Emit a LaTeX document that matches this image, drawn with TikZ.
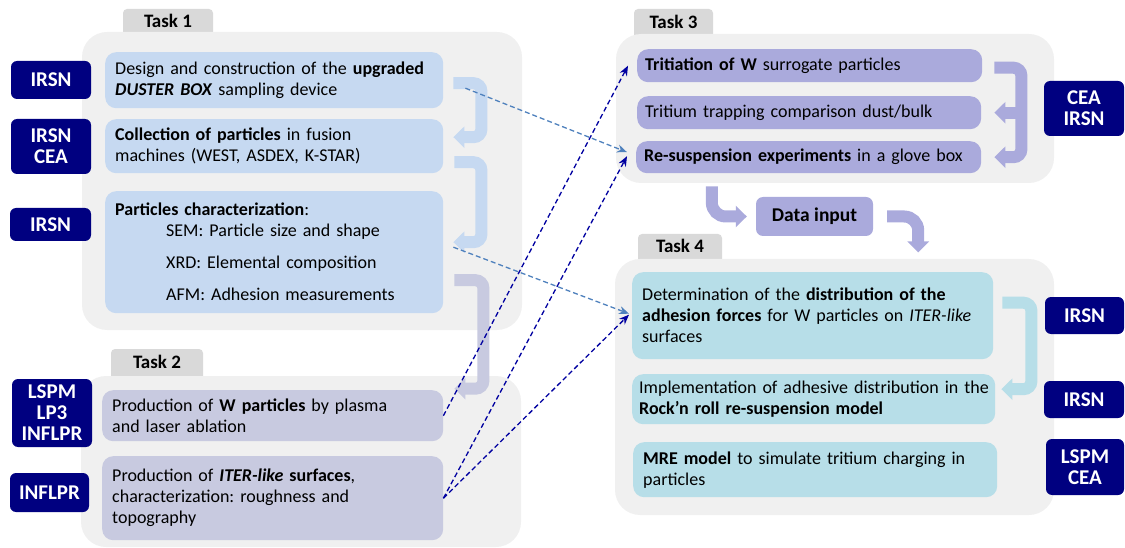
\documentclass[tikz,border=0pt]{standalone}
\usepackage{fontspec}
\setmainfont{Carlito}
\usepackage{tikz}
\usetikzlibrary{positioning, calc, arrows.meta}

\definecolor{panelgrey}{RGB}{240,240,240}
\definecolor{tabgrey}{RGB}{217,217,217}
\definecolor{navyblue}{RGB}{0,0,128}
\definecolor{taskoneblue}{RGB}{198,217,241}
\definecolor{tasktwogrey}{RGB}{200,202,224}
\definecolor{taskthreepurple}{RGB}{170,170,220}
\definecolor{taskfourcyan}{RGB}{183,222,232}
\definecolor{dashblue}{RGB}{79,129,189}
\definecolor{dashnavy}{RGB}{0,0,160}

\tikzset{
  work/.style={anchor=north west, rounded corners=11pt, align=left, inner xsep=10pt, inner ysep=0pt, font=\fontsize{18}{21}\selectfont},
  partner/.style={fill=navyblue, text=white, rounded corners=6pt, align=center, inner sep=0pt, font=\bfseries\fontsize{21}{21}\selectfont},
  tasklbl/.style={font=\bfseries\fontsize{19}{21}\selectfont},
  fatarrow/.style={line width=12pt, rounded corners=8pt, -{Triangle[length=11pt,width=21pt]}},
  lightdash/.style={draw=dashblue, line width=1.3pt, dash pattern=on 5pt off 3pt, -{Stealth[length=10pt,width=8pt]}},
  darkdash/.style={lightdash, draw=dashnavy}
}

\begin{document}
\frenchspacing
\begin{tikzpicture}[x=1pt, y=-1pt]
\useasboundingbox (0,0) rectangle (1125,548);

\fill[tabgrey, rounded corners=4pt] (123,40) rectangle (213,9);
\fill[tabgrey, rounded corners=4pt] (111,384) rectangle (203,349);
\fill[tabgrey, rounded corners=4pt] (634,40) rectangle (713,9);
\fill[tabgrey, rounded corners=4pt] (638,266) rectangle (722,234);
\node[tasklbl] (tk1) at (168,21) {Task 1};
\node[tasklbl] (tk2) at (157,362) {Task 2};
\node[tasklbl] (tk3) at (673.5,22) {Task 3};
\node[tasklbl] (tk4) at (680,246) {Task 4};

\fill[panelgrey, rounded corners=25pt] (82,32) rectangle (522,330);
\fill[panelgrey, rounded corners=25pt] (81,376) rectangle (521,547);
\fill[panelgrey, rounded corners=25pt] (616,34) rectangle (1054,183);
\fill[panelgrey, rounded corners=25pt] (615,259) rectangle (1054,515);

\foreach \nm/\cx/\cy/\bw/\bh/\txt in {
  p1/51/80/80/38/IRSN,
  p2/51/146.5/80/55/{IRSN\\CEA},
  p3/50.5/224.5/81/33/IRSN,
  p4/52/413/80/68/{LSPM\\LP3\\INFLPR},
  p5/49.5/492.5/79/39/INFLPR,
  p6/1084/108.5/80/55/{CEA\\IRSN},
  p7/1084.5/315.5/79/37/IRSN,
  p8/1084/399.5/80/37/IRSN,
  p9/1085/467/78/56/{LSPM\\CEA}}
  \node[partner, minimum width=\bw pt, minimum height=\bh pt] (\nm) at (\cx,\cy) {\txt};

\node[work, fill=taskoneblue, text width=318pt, minimum height=56pt] (d1) at (105,52)
  {Design and construction of the \textbf{upgraded}\\ \textbf{\textit{DUSTER BOX}} sampling device};
\node[work, fill=taskoneblue, text width=318pt, minimum height=54pt] (d2) at (105,119)
  {\textbf{Collection of particles} in fusion\\ machines (WEST, ASDEX, K-STAR)};
\node[work, fill=taskoneblue, text width=318pt, minimum height=122pt] (d3) at (105,191)
  {\textbf{Particles characterization}:\\
   \hspace*{51pt}SEM: Particle size and shape\\[11pt]
   \hspace*{51pt}XRD: Elemental composition\\[11pt]
   \hspace*{51pt}AFM: Adhesion measurements};

\node[work, fill=tasktwogrey, text width=321pt, minimum height=51pt] (w1) at (102,390)
  {Production of \textbf{W particles} by plasma\\ and laser ablation};
\node[work, fill=tasktwogrey, text width=321pt, minimum height=84pt] (w2) at (102,456)
  {Production of \textbf{\textit{ITER-like} surfaces},\\ characterization: roughness and\\ topography};

\node[work, fill=taskthreepurple, text width=329pt, minimum height=33pt, inner xsep=8pt] (r1) at (637,49)
  {\textbf{Tritiation of W} surrogate particles};
\node[work, fill=taskthreepurple, text width=328pt, minimum height=33pt, inner xsep=8pt] (r2) at (637,96)
  {Tritium trapping comparison dust/bulk};
\node[work, fill=taskthreepurple, text width=329pt, minimum height=32pt, inner xsep=8pt] (r3) at (636,141)
  {\textbf{Re-suspension experiments} in a glove box};

\node[fill=taskthreepurple, rounded corners=7pt, minimum width=117pt, minimum height=39pt,
  font=\bfseries\fontsize{19.5}{21}\selectfont] (data) at (814.5,216.5) {Data input};

\node[work, fill=taskfourcyan, text width=341pt, minimum height=87pt] (a1) at (632,272)
  {Determination of the \textbf{distribution of the}\\ \textbf{adhesion forces} for W particles on \textit{ITER-like}\\ surfaces};
\node[work, fill=taskfourcyan, text width=349pt, minimum height=50pt, inner xsep=7pt] (a2) at (632,374)
  {\mbox{Implementation of adhesive distribution in the}\\ \textbf{Rock’n roll re-suspension model}};
\node[work, fill=taskfourcyan, text width=344pt, minimum height=55pt] (a3) at (633,442)
  {\textbf{MRE model} to simulate tritium charging in\\ particles};

\draw[fatarrow, taskoneblue] ([shift={(10,3)}]d1.east) -- ++(28,0) |- ([shift={(10,-9)}]d2.east);
\draw[fatarrow, taskoneblue] ([shift={(11,16)}]d2.east) -- ++(27,0) |- ([shift={(10,-10)}]d3.east);
\draw[fatarrow, tasktwogrey] ([shift={(11,28)}]d3.east) -- ++(29,0) |- ([shift={(11,-27)}]w1.east);

\draw[fatarrow, taskthreepurple] ([shift={(12,2)}]r1.east) -- ++(27,0) |- ([xshift=13]r3.east);
\draw[fatarrow, taskthreepurple] ([xshift=40]r2.east) -- ([xshift=13]r2.east);
\draw[fatarrow, taskthreepurple, rounded corners=14pt, shorten >=9pt] ([shift={(-44,-30)}]data.west) |- (data.west);
\draw[fatarrow, taskthreepurple, rounded corners=14pt] ([xshift=14]data.east) -| ++(31,36);

\draw[fatarrow, taskfourcyan] ([shift={(9,-13)}]a1.east) -- ++(29,0) |- ([shift={(6,-10)}]a2.east);

\draw[lightdash] ([shift={(22,8)}]d1.east) -- ([shift={(-9,-5)}]r3.west);
\draw[lightdash] ([shift={(10,-5)}]d3.east) -- ([shift={(-3,-2)}]a1.west);
\draw[darkdash] (w1.east) -- ([xshift=-9]r1.west);
\draw[darkdash] (w2.east) -- ([shift={(-9,-1)}]r3.west);
\draw[darkdash] (w2.east) -- ([shift={(-3,-1)}]a1.west);

\end{tikzpicture}
\end{document}
